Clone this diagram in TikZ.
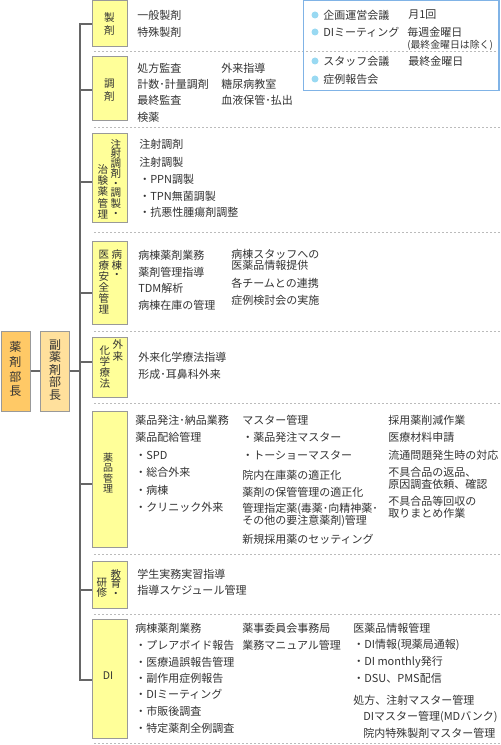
\documentclass[tikz,border=0pt]{standalone}
\usepackage{fontspec}
\setmainfont{Noto Sans CJK JP}
\usetikzlibrary{fit}
\definecolor{txtc}{HTML}{333333}
\definecolor{boxline}{HTML}{999999}
\definecolor{catfill}{HTML}{FFFF99}
\definecolor{chieffill}{HTML}{FFC966}
\definecolor{vicefill}{HTML}{FFE09C}
\definecolor{linkc}{HTML}{666666}
\definecolor{sepc}{HTML}{BBBBBB}
\definecolor{meetline}{HTML}{80B3E6}
\definecolor{bulc}{HTML}{99D9F2}
\tikzset{
  cat/.style={draw=boxline, fill=catfill, line width=0.75pt, inner sep=0pt},
  chiefbox/.style={draw=boxline, fill=chieffill, line width=0.75pt, inner sep=0pt},
  vicebox/.style={draw=boxline, fill=vicefill, line width=0.75pt, inner sep=0pt},
  link/.style={draw=linkc, line width=1.5pt},
  sepline/.style={draw=sepc, line width=0.75pt, dash pattern=on 1.5pt off 1.5pt},
  txt/.style={anchor=west, inner sep=0pt, text=txtc, font=\fontsize{8.25}{9}\selectfont},
  small/.style={anchor=west, inner sep=0pt, text=txtc, font=\fontsize{7.4}{8}\selectfont},
  vlab/.style={inner sep=0pt, align=center, text=txtc, font=\fontsize{7.9}{8.25}\selectfont},
  headlab/.style={inner sep=0pt, align=center, text=txtc, font=\fontsize{9}{#1}\selectfont},
  bul/.style={circle, fill=bulc, inner sep=0pt, minimum size=5.25pt},
}
\begin{document}
\begin{tikzpicture}[x=0.75pt,y=-0.75pt]
\useasboundingbox (0,0) rectangle (500,745);

% dotted separators
\foreach \yy in {52,128,232,331,403,554,614,743}
  \draw[sepline] (94,\yy) -- (500,\yy);

% meeting box
\node[draw=meetline, line width=1pt, inner sep=0pt, fit={(303.5,0.6)(499,90.5)}] (meet) {};
\foreach \yy/\t [count=\n] in {15/企画運営会議, 32/DIミーティング, 61/スタッフ会議, 79/症例報告会}{
  \node[bul] (mb\n) at (315,\yy) {};
  \node[txt] (mt\n) at (323,\yy) {\t};
}
\node[txt] (mv1) at (408,15) {月1回};
\node[txt] (mv2) at (407,32) {毎週金曜日};
\node[small] (mv3) at (407,45) {(最終金曜日は除く)};
\node[txt] (mv4) at (408,61) {最終金曜日};

% head boxes
\node[chiefbox, fit={(1,331)(30,411)}] (chief) {};
\node[vicebox, fit={(40,331)(69,411)}] (vice) {};
\node[headlab=11.2] (chiefl) at (15.5,369) {薬\\剤\\部\\長};
\node[headlab=9.4] (vicel) at (55,370) {副\\薬\\剤\\部\\長};

% category boxes
\node[cat, fit={(92,1)(127,47)}] (c1) {};
\node[cat, fit={(92,57)(127,121)}] (c2) {};
\node[cat, fit={(92,134)(127,223)}] (c3) {};
\node[cat, fit={(92,241)(127,324)}] (c4) {};
\node[cat, fit={(92,337)(127,397)}] (c5) {};
\node[cat, fit={(92,411)(127,547)}] (c6) {};
\node[cat, fit={(92,561)(127,608)}] (c7) {};
\node[cat, fit={(92,619)(127,738)}] (c8) {};

% connectors
\coordinate (j1) at (80,24);
\coordinate (j2) at (80,90);
\coordinate (j3) at (80,182);
\coordinate (j4) at (80,293);
\coordinate (j5) at (80,362);
\coordinate (j6) at (80,484);
\coordinate (j7) at (80,590);
\coordinate (j8) at (80,680);
\coordinate (jv) at (80,371);
\draw[link] (j1 -| c1.west) -- (j1) -- (j8) -- (j8 -| c8.west);
\foreach \i in {2,...,7} \draw[link] (j\i) -- (j\i -| c\i.west);
\draw[link] (chief.east |- jv) -- (vice.west |- jv);
\draw[link] (vice.east |- jv) -- (jv);

% category labels
\node[vlab, font=\fontsize{7.9}{9.4}\selectfont] (l1) at (109.5,24) {製\\剤};
\node[vlab, font=\fontsize{7.9}{10}\selectfont] (l2) at (109.5,90) {調\\剤};
\node[vlab, anchor=north, font=\fontsize{7.9}{7.3}\selectfont] (l3a) at (116,139) {注\\射\\調\\剤\\・\\調\\製\\・};
\node[vlab, anchor=south, font=\fontsize{7.9}{8.4}\selectfont] (l3b) at (103,219) {治\\験\\薬\\管\\理};
\node[vlab, anchor=north, font=\fontsize{7.9}{7.2}\selectfont] (l4a) at (117,249) {病\\棟\\・};
\node[vlab, anchor=north] (l4b) at (104,250) {医\\療\\安\\全\\管\\理};
\node[vlab, anchor=north, font=\fontsize{7.9}{9}\selectfont] (l5a) at (118,339) {外\\来};
\node[vlab, anchor=north] (l5b) at (105,346) {化\\学\\療\\法};
\node[vlab, font=\fontsize{7.5}{7.6}\selectfont] (l6) at (108,473) {薬\\品\\管\\理};
\node[vlab, anchor=north, font=\fontsize{7.9}{7.4}\selectfont] (l7a) at (116,569) {教\\育\\・};
\node[vlab, anchor=north, font=\fontsize{7.9}{7.4}\selectfont] (l7b) at (102,578) {研\\修};
\node[vlab] (l8) at (108,676) {DI};

% item texts
\foreach \yy/\t [count=\n] in {15/一般製剤, 32/特殊製剤}
  \node[txt] (p1-\n) at (137,\yy) {\t};
\foreach \yy/\t [count=\n] in {68/処方監査, 84/計数･計量調剤, 100/最終監査, 117/検薬}
  \node[txt] (p2a-\n) at (137,\yy) {\t};
\foreach \yy/\t [count=\n] in {68/外来指導, 84/糖尿病教室, 100/血液保管･払出}
  \node[txt] (p2b-\n) at (221,\yy) {\t};
\foreach \yy/\t [count=\n] in {144/注射調剤, 162/注射調製, 179/・PPN調製, 196/・TPN無菌調製, 212/・抗悪性腫瘍剤調整}
  \node[txt] (p3-\n) at (139,\yy) {\t};
\foreach \yy/\t [count=\n] in {255/病棟薬剤業務, 272/薬剤管理指導, 288/TDM解析, 305/病棟在庫の管理}
  \node[txt] (p4a-\n) at (138,\yy) {\t};
\foreach \yy/\t [count=\n] in {254/病棟スタッフへの, 265/医薬品情報提供, 283/各チームとの連携, 300/症例検討会の実施}
  \node[txt] (p4b-\n) at (231,\yy) {\t};
\foreach \yy/\t [count=\n] in {357/外来化学療法指導, 374/形成･耳鼻科外来}
  \node[txt] (p5-\n) at (138,\yy) {\t};
\foreach \yy/\t [count=\n] in {420/薬品発注･納品業務, 437/薬品配給管理, 455/・SPD, 472/・総合外来, 490/・病棟, 507/・クリニック外来}
  \node[txt] (p6a-\n) at (135,\yy) {\t};
\foreach \yy/\t [count=\n] in {420/マスター管理, 437/・薬品発注マスター, 455/・トーショーマスター, 475/院内在庫薬の適正化, 492/薬剤の保管管理の適正化, 509/管理指定薬(毒薬･向精神薬･, 521/その他の要注意薬剤)管理, 539/新規採用薬のセッティング}
  \node[txt] (p6b-\n) at (242,\yy) {\t};
\foreach \yy/\t [count=\n] in {420/採用薬削減作業, 437/医療材料申請, 455/流通問題発生時の対応, 472/不具合品の返品、, 484/原因調査依頼、確認, 501/不具合品等回収の, 513/取りまとめ作業}
  \node[txt] (p6c-\n) at (388,\yy) {\t};
\foreach \yy/\t [count=\n] in {574/学生実務実習指導, 590/指導スケジュール管理}
  \node[txt] (p7-\n) at (137,\yy) {\t};
\foreach \yy/\t [count=\n] in {628/病棟薬剤業務, 645/・プレアボイド報告, 662/・医療過誤報告管理, 678/・副作用症例報告, 694/・DIミーティング, 711/・市販後調査, 728/・特定薬剤全例調査}
  \node[txt] (p8a-\n) at (135,\yy) {\t};
\foreach \yy/\t [count=\n] in {628/薬事委員会事務局, 645/業務マニュアル管理}
  \node[txt] (p8b-\n) at (242,\yy) {\t};
\foreach \yy/\t [count=\n] in {628/医薬品情報管理, 645/・DI情報(現薬局通報), 662/・DI monthly発行, 678/・DSU、PMS配信, 700/処方、注射マスター管理}
  \node[txt] (p8c-\n) at (353,\yy) {\t};
\foreach \yy/\t [count=\n] in {717/DIマスター管理(MDバンク), 733/院内特殊製剤マスター管理}
  \node[txt] (p8d-\n) at (363,\yy) {\t};
\end{tikzpicture}
\end{document}
